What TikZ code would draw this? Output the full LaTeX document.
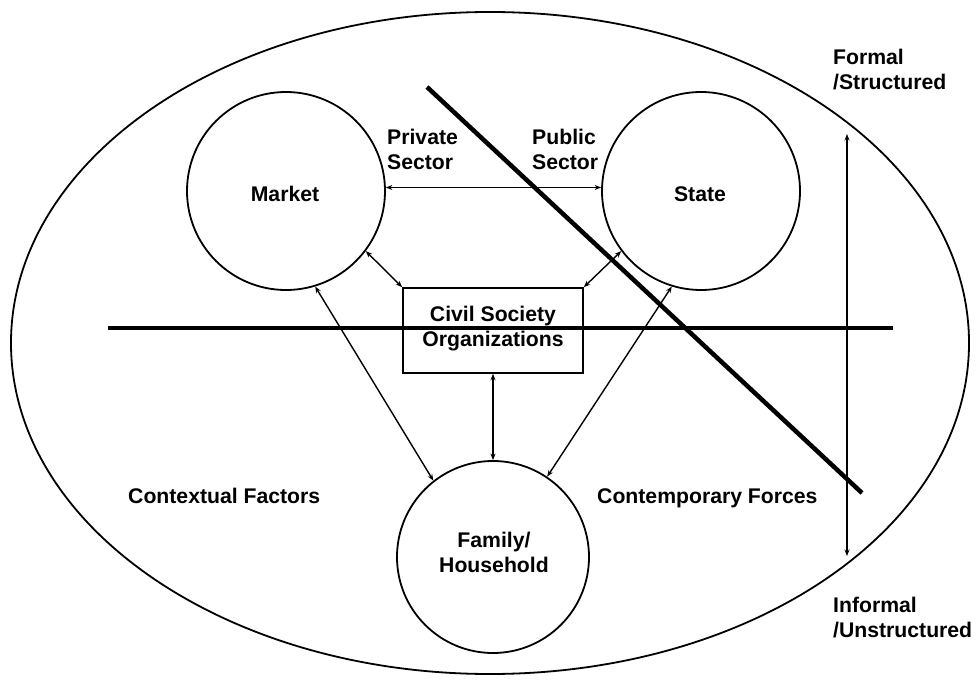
\documentclass[tikz,border=0pt]{standalone}
\usepackage{fontspec}
\setmainfont{Liberation Sans}
\usetikzlibrary{arrows.meta,shapes.geometric}
\begin{document}
\begin{tikzpicture}[x=1bp,y=-1bp,
  lbl/.style={font=\fontsize{21.2bp}{25bp}\selectfont\bfseries, inner sep=0pt},
  circ/.style={circle, draw, line width=1.8bp, inner sep=0pt, minimum size=#1},
  box/.style={rectangle, draw, line width=1.6bp, inner sep=0pt, minimum width=180bp, minimum height=85bp},
  link/.style={line width=1.4bp, {Stealth[length=6.5bp,width=5bp]}-{Stealth[length=6.5bp,width=5bp]}},
  thick line/.style={line width=4.5bp},
]
\useasboundingbox (0,0) rectangle (976,682);
% outer ellipse
\node[ellipse, draw, line width=1.8bp, minimum width=958bp, minimum height=662bp, inner sep=0pt] (outer) at (490,343) {};
% circles
\node[circ=198bp] (market) at (286,191) {};
\node[circ=198bp] (state) at (701,191) {};
\node[circ=192bp] (family) at (493,557) {};
\node[box] (cso) at (493,330.5) {};
% labels in circles
\node[lbl, anchor=base] (marketlbl) at (285,201) {Market};
\node[lbl, anchor=base] (statelbl) at (700,201) {State};
\node[lbl, anchor=base, align=center] (familylbl) at (494,572) {Family/\\Household};
\node[lbl, anchor=base, align=center] (csolbl) at (493,346) {Civil Society\\Organizations};
% sector labels
\node[lbl, anchor=base west, align=left] (private) at (387,170) {Private\\Sector};
\node[lbl, anchor=base west, align=left] (public) at (532,170) {Public\\Sector};
\node[lbl, anchor=base west] (context) at (128,503) {Contextual Factors};
\node[lbl, anchor=base west] (contemp) at (597,503) {Contemporary Forces};
\node[lbl, anchor=base west, align=left] (formal) at (833,90) {Formal\\/Structured};
\node[lbl, anchor=base west, align=left] (informal) at (833,637) {Informal\\/Unstructured};
% thick dividing lines
\coordinate (hl) at (108,328);
\coordinate (hr) at (893,328);
\coordinate (dt) at (427,87);
\coordinate (db) at (862,493);
\draw[thick line] (hl) -- (hr);
\draw[thick line] (dt) -- (db);
% vertical axis
\coordinate (vt) at (847,134);
\coordinate (vb) at (847,556);
\draw[link] (vt) -- (vb);
% connectors
\draw[link] (market.2) -- (state.178);
\draw[link] (market.-37) -- (cso.north west);
\draw[link] (state.217) -- (cso.north east);
\draw[link] (market.-73) -- (family.128);
\draw[link] (state.253) -- (family.56);
\draw[link] (cso.south) -- (family.north);
\end{tikzpicture}
\end{document}
